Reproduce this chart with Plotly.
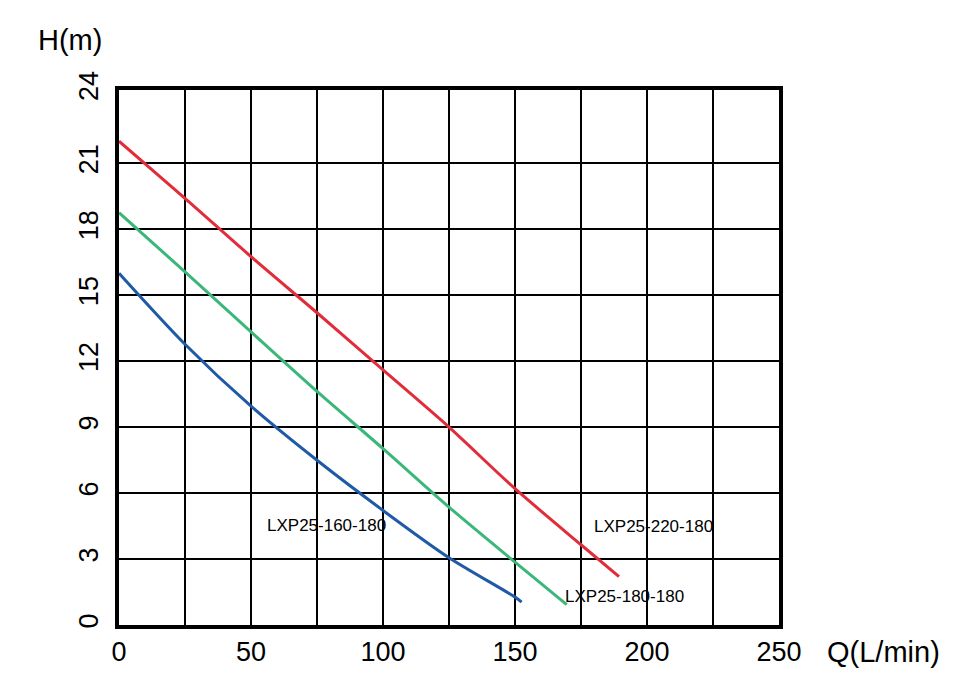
import plotly.graph_objects as go

# --- curve data (Q in L/min, H in m) ---
q_220 = [0, 25, 50, 75, 100, 125, 150, 175, 189.4]
h_220 = [22.0, 19.4, 16.75, 14.2, 11.6, 9.0, 6.2, 3.65, 2.2]

q_180 = [0, 25, 50, 75, 100, 125, 150, 169.6]
h_180 = [18.75, 16.06, 13.33, 10.62, 8.02, 5.36, 2.86, 0.93]

q_160 = [0, 25, 50, 75, 100, 125, 150, 152.5]
h_160 = [16.0, 12.77, 9.95, 7.49, 5.21, 3.06, 1.27, 1.04]

series_names = ["LXP25-220-180", "LXP25-180-180", "LXP25-160-180"]
series_colors = ["#e12d3a", "#3bb77a", "#1f5aa6"]

# label anchor positions (left edge, centre) in data units
label_q = [179, 168.3, 55.3]
label_h = [4.48, 1.31, 4.53]

x_ticks = list(range(0, 251, 25))
x_ticktext = [str(v) if v % 50 == 0 else "" for v in x_ticks]
# the top cell of the printed chart is drawn a little taller than the others
y_top = 24.33
y_ticks = [0, 3, 6, 9, 12, 15, 18, 21, y_top]
y_ticktext = ["0", "3", "6", "9", "12", "15", "18", "21", "24"]

FONT = "Arial, Liberation Sans, sans-serif"

fig = go.Figure()
for q, h, name, col in zip([q_220, q_180, q_160], [h_220, h_180, h_160],
                           series_names, series_colors):
    fig.add_trace(go.Scatter(x=q, y=h, mode='lines', name=name,
                             line=dict(color=col, width=3, shape='spline', smoothing=0.8)))

for name, lq, lh in zip(series_names, label_q, label_h):
    fig.add_annotation(x=lq, y=lh, text=name, showarrow=False, xanchor='left',
                       yanchor='middle', font=dict(family=FONT, size=17, color='black'))

# axis titles
fig.add_annotation(xref='paper', yref='paper', x=-0.074, y=1.094, text="H(m)", showarrow=False,
                   xanchor='center', yanchor='middle', font=dict(family=FONT, size=29, color='black'))
fig.add_annotation(xref='paper', yref='paper', x=1.07, y=-0.05, text="Q(L/min)", showarrow=False,
                   xanchor='left', yanchor='middle', font=dict(family=FONT, size=29, color='black'))

fig.update_layout(
    width=962, height=677,
    margin=dict(l=111, r=191, t=82, b=60, autoexpand=False),
    plot_bgcolor='white', paper_bgcolor='white',
    showlegend=False,
    font=dict(family=FONT, color='black'),
)
fig.update_xaxes(range=[0, 250], tickvals=x_ticks, ticktext=x_ticktext,
                 showgrid=True, gridcolor='black', gridwidth=2, zeroline=False,
                 showline=True, linecolor='black', linewidth=4, mirror=True,
                 ticks='', tickfont=dict(size=27, family=FONT, color='black'))
fig.update_yaxes(range=[0, y_top], tickvals=y_ticks, ticktext=y_ticktext, tickangle=-90,
                 showgrid=True, gridcolor='black', gridwidth=2, zeroline=False,
                 showline=True, linecolor='black', linewidth=4, mirror=True,
                 ticks='', ticklabelstandoff=6, tickfont=dict(size=27, family=FONT, color='black'))

fig.write_html("out.html")
